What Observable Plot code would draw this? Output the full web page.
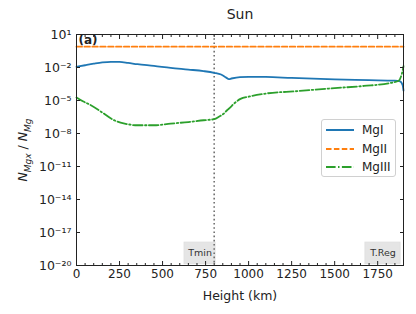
<!DOCTYPE html>
<html><head><meta charset="utf-8">
<script src="https://cdn.jsdelivr.net/npm/d3@7"></script>
<script src="https://cdn.jsdelivr.net/npm/@observablehq/plot@0.6"></script>
<style>
body{margin:0;background:#fff;font-family:"DejaVu Sans",sans-serif;}
#wrap{position:relative;width:416px;height:314px;}
#ylab{position:absolute;left:24px;top:150px;transform:translate(-50%,-50%) rotate(-90deg);font-size:12.5px;white-space:nowrap;color:#222;}
#ylab sub{font-size:9px;}
#legend{position:absolute;left:321px;top:119px;width:73px;height:56px;border:1px solid #d0d0d0;border-radius:3px;background:rgba(255,255,255,0.85);font-size:12px;color:#222;}
#legend .row{position:absolute;left:4px;height:16px;display:flex;align-items:center;}
#legend svg{margin-right:8px;}
</style>
</head><body>
<div id="wrap"></div>
<script>
// ---- data ----
const title = "Sun";
const panelTag = "(a)";
const xLabel = "Height (km)";
const seriesNames = ["MgI", "MgII", "MgIII"];
const seriesColors = ["#1f77b4", "#ff7f0e", "#2ca02c"];

const heightMgI = [0, 50, 100, 150, 200, 250, 300, 354, 450, 547, 650, 738, 800, 840, 870, 885, 900, 950, 1000, 1100, 1250, 1500, 1700, 1850, 1880, 1895, 1900];
const valuesMgI = [1.15e-2, 1.6e-2, 2.2e-2, 2.9e-2, 3.3e-2, 3.2e-2, 2.6e-2, 2.0e-2, 1.4e-2, 9.3e-3, 6.5e-3, 4.7e-3, 3.3e-3, 2.3e-3, 1.2e-3, 8.7e-4, 1.0e-3, 1.35e-3, 1.4e-3, 1.38e-3, 1.12e-3, 8.3e-4, 7.1e-4, 6.3e-4, 5.6e-4, 2.5e-4, 8e-5];

const heightMgII = [0, 250, 500, 750, 1000, 1250, 1500, 1750, 1900];
const valuesMgII = [0.78, 0.78, 0.78, 0.78, 0.78, 0.78, 0.78, 0.78, 0.78];

const heightMgIII = [0, 40, 80, 150, 215, 280, 354, 450, 547, 650, 738, 800, 830, 855, 875, 895, 914, 953, 1000, 1087, 1284, 1477, 1669, 1826, 1872, 1890, 1900];
const valuesMgIII = [1.9e-5, 8e-6, 4e-6, 8e-7, 1.7e-7, 8e-8, 5.6e-8, 5.6e-8, 7.9e-8, 1.1e-7, 1.6e-7, 2.0e-7, 3.5e-7, 6.3e-7, 1.3e-6, 2.5e-6, 5e-6, 1.4e-5, 2.2e-5, 4e-5, 7.1e-5, 1.26e-4, 2.1e-4, 4e-4, 6.3e-4, 2.5e-3, 1.3e-2];

const xTicks = [0, 250, 500, 750, 1000, 1250, 1500, 1750];
const xMinorTicks = d3.range(0, 1901, 50).filter(v => v % 250 !== 0);
const yTicks = [1e-20, 1e-17, 1e-14, 1e-11, 1e-8, 1e-5, 1e-2, 1e1];

const regionLabels = ["Tmin", "T.Reg"];
const tminHeight = 800;
const topHeight = 1900;

// ---- build ----
const rows = [];
heightMgI.forEach((h, i) => rows.push({h, v: valuesMgI[i], s: "MgI"}));
heightMgII.forEach((h, i) => rows.push({h, v: valuesMgII[i], s: "MgII"}));
heightMgIII.forEach((h, i) => rows.push({h, v: valuesMgIII[i], s: "MgIII"}));

const supMap = {"-": "\u207B", "0": "\u2070", "1": "\u00B9", "2": "\u00B2", "3": "\u00B3", "4": "\u2074", "5": "\u2075", "6": "\u2076", "7": "\u2077", "8": "\u2078", "9": "\u2079"};
const fmtPow = d => "10" + String(Math.round(Math.log10(d))).split("").map(c => supMap[c]).join("");

const dashes = {MgI: null, MgII: "5.5,2.4", MgIII: "9.6,2.4,1.5,2.4"};

const boxes = [
  {label: regionLabels[0], x1: tminHeight - 172, x2: tminHeight + 8},
  {label: regionLabels[1], x1: topHeight - 221, x2: topHeight - 17}
];

const chart = Plot.plot({
  width: 416, height: 314,
  marginLeft: 76, marginRight: 13, marginTop: 34, marginBottom: 49,
  style: {fontFamily: "DejaVu Sans, sans-serif", fontSize: "12px", color: "#222", background: "white", overflow: "visible"},
  x: {domain: [0, 1900]},
  y: {type: "log", domain: [1e-20, 10]},
  marks: [
    Plot.rect(boxes, {x1: "x1", x2: "x2", y1: 1.3e-20, y2: 1.2e-18, fill: "#e5e5e5", stroke: "#e0e0e0"}),
    Plot.text(boxes, {x: d => (d.x1 + d.x2) / 2, y: 1.3e-19, text: "label", fontSize: 9.5, fill: "#333"}),
    Plot.ruleX([tminHeight], {stroke: "#707070", strokeWidth: 1.6, strokeDasharray: "1.6,2.6"}),
    ...seriesNames.map((s, i) => Plot.line(rows.filter(r => r.s === s), {
      x: "h", y: "v", stroke: seriesColors[i], strokeWidth: 1.8, curve: "monotone-x",
      strokeDasharray: dashes[s]
    })),
    Plot.frame({stroke: "#222", strokeWidth: 1}),
    Plot.axisX({ticks: xTicks, tickSize: -4, tickPadding: 8, tickFormat: d3.format("d"), label: null, fontSize: 12}),
    Plot.axisX({ticks: xMinorTicks, tickSize: -2, tickFormat: () => "", label: null}),
    Plot.axisX({anchor: "top", ticks: xTicks, tickSize: -4, tickFormat: () => "", label: null}),
    Plot.axisX({anchor: "top", ticks: xMinorTicks, tickSize: -2, tickFormat: () => "", label: null}),
    Plot.axisY({ticks: yTicks, tickSize: -4, tickPadding: 9, tickFormat: fmtPow, label: null, fontSize: 12.5}),
    Plot.axisY({anchor: "right", ticks: yTicks, tickSize: -4, tickFormat: () => "", label: null}),
    Plot.text([xLabel], {text: d => d, frameAnchor: "bottom", dy: 30, fontSize: 12.5, lineAnchor: "middle"}),
    Plot.text([title], {text: d => d, frameAnchor: "top", dy: -20, fontSize: 14, lineAnchor: "middle"}),
    Plot.text([panelTag], {text: d => d, frameAnchor: "top-left", dx: 2, dy: 6, fontSize: 12, fontWeight: "bold", textAnchor: "start", lineAnchor: "middle"})
  ]
});

const wrap = document.getElementById("wrap");
wrap.appendChild(chart);

const ylab = document.createElement("div");
ylab.id = "ylab";
ylab.innerHTML = "<i>N</i><sub><i>Mgx</i></sub> / <i>N</i><sub><i>Mg</i></sub>";
wrap.appendChild(ylab);

const legend = document.createElement("div");
legend.id = "legend";
seriesNames.forEach((s, i) => {
  const row = document.createElement("div");
  row.className = "row";
  row.style.top = (2 + i * 18.5) + "px";
  row.innerHTML = `<svg width="28" height="6"><line x1="0" y1="3" x2="28" y2="3" stroke="${seriesColors[i]}" stroke-width="2" ${dashes[s] ? `stroke-dasharray="${dashes[s]}"` : ""}/></svg><span>${s}</span>`;
  legend.appendChild(row);
});
wrap.appendChild(legend);
</script>
</body></html>
